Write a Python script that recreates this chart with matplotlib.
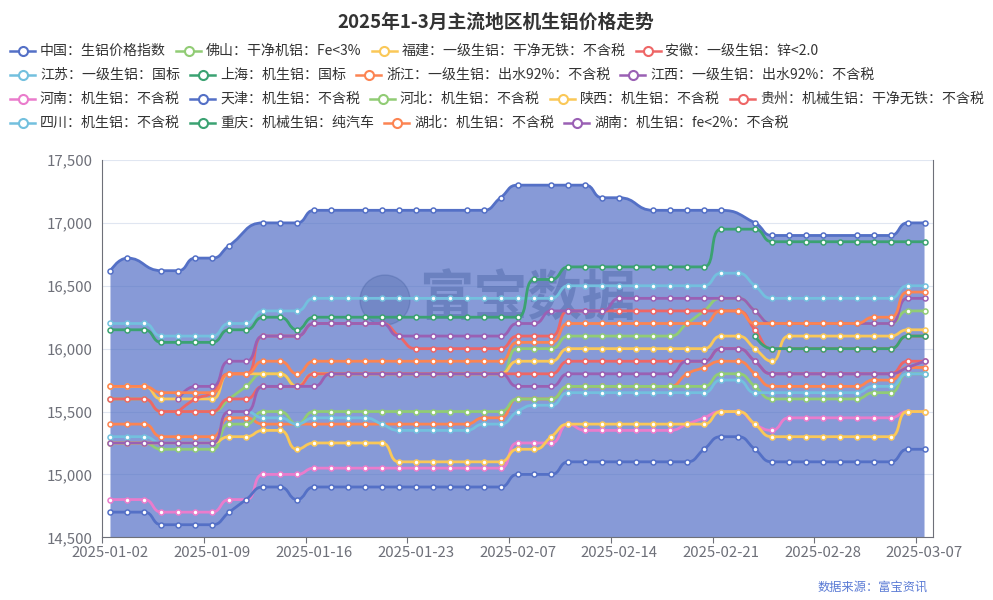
import matplotlib
matplotlib.use('Agg')
import matplotlib.pyplot as plt
from matplotlib.path import Path
from matplotlib.patches import PathPatch, Ellipse
import numpy as np
import math

plt.rcParams['font.family'] = ['Noto Sans CJK SC', 'DejaVu Sans']

# ---- data ----
dates = ['2025-01-02', '2025-01-03', '2025-01-04', '2025-01-06', '2025-01-07', '2025-01-08',
         '2025-01-09', '2025-01-10', '2025-01-11', '2025-01-13', '2025-01-14', '2025-01-15',
         '2025-01-16', '2025-01-17', '2025-01-18', '2025-01-20', '2025-01-21', '2025-01-22',
         '2025-01-23', '2025-01-24', '2025-01-25', '2025-01-27', '2025-02-05', '2025-02-06',
         '2025-02-07', '2025-02-08', '2025-02-10', '2025-02-11', '2025-02-12', '2025-02-13',
         '2025-02-14', '2025-02-15', '2025-02-17', '2025-02-18', '2025-02-19', '2025-02-20',
         '2025-02-21', '2025-02-22', '2025-02-24', '2025-02-25', '2025-02-26', '2025-02-27',
         '2025-02-28', '2025-03-01', '2025-03-03', '2025-03-04', '2025-03-05', '2025-03-06',
         '2025-03-07']

china = [16620, 16720, None, 16620, 16620, 16720,
         16720, 16820, None, 17000, 17000, 17000,
         17100, 17100, None, 17100, 17100, 17100,
         17100, 17100, None, 17100, 17100, 17200,
         17300, None, 17300, 17300, 17300, 17200,
         17200, None, 17100, 17100, 17100, 17100,
         17100, None, 17000, 16900, 16900, 16900,
         16900, None, 16900, 16900, 16900, 17000,
         17000]
foshan = [15600, 15600, 15600, 15500, 15500, 15500,
          15500, 15600, 15700, 15800, 15800, 15700,
          15800, 15800, 15800, 15800, 15800, 15800,
          15800, 15800, 15800, 15800, 15800, 15800,
          16000, 16000, 16000, 16100, 16100, 16100,
          16100, 16100, 16100, 16100, 16200, 16300,
          16400, 16400, 16300, 16200, 16200, 16200,
          16200, 16200, 16200, 16200, 16200, 16300,
          16300]
fujian = [15700, 15700, 15700, 15600, 15600, 15600,
          15600, 15800, 15800, 15800, 15800, 15700,
          15800, 15800, 15800, 15800, 15800, 15800,
          15800, 15800, 15800, 15800, 15800, 15800,
          15900, 15900, 15900, 16000, 16000, 16000,
          16000, 16000, 16000, 16000, 16000, 16000,
          16100, 16100, 16000, 15900, 16100, 16100,
          16100, 16100, 16100, 16100, 16100, 16150,
          16150]
anhui = [None, None, None, None, 15500, 15600,
         15650, 15800, 15800, 16100, 16100, 16100,
         16200, 16200, 16200, 16200, 16200, 16100,
         16000, 16000, 16000, 16000, 16000, 16000,
         16100, 16100, 16100, 16300, 16300, 16300,
         16300, 16300, 16300, 16300, 16300, 16300,
         16300, 16300, 16150, 16000, 16000, 16000,
         16000, 16000, 16000, 16000, 16000, 16100,
         16100]
jiangsu = [16200, 16200, 16200, 16100, 16100, 16100,
           16100, 16200, 16200, 16300, 16300, 16300,
           16400, 16400, 16400, 16400, 16400, 16400,
           16400, 16400, 16400, 16400, 16400, 16400,
           16400, 16400, 16400, 16500, 16500, 16500,
           16500, 16500, 16500, 16500, 16500, 16500,
           16600, 16600, 16500, 16400, 16400, 16400,
           16400, 16400, 16400, 16400, 16400, 16500,
           16500]
shanghai = [16150, 16150, 16150, 16050, 16050, 16050,
            16050, 16150, 16150, 16250, 16250, 16150,
            16250, 16250, 16250, 16250, 16250, 16250,
            16250, 16250, 16250, 16250, 16250, 16250,
            16250, 16550, 16550, 16650, 16650, 16650,
            16650, 16650, 16650, 16650, 16650, 16650,
            16950, 16950, 16950, 16850, 16850, 16850,
            16850, 16850, 16850, 16850, 16850, 16850,
            16850]
zhejiang = [15400, 15400, 15400, 15300, 15300, 15300,
            15300, 15450, 15450, 15400, 15400, 15400,
            15400, 15400, 15400, 15400, 15400, 15400,
            15400, 15400, 15400, 15400, 15450, 15450,
            15600, 15600, 15600, 15700, 15700, 15700,
            15700, 15700, 15700, 15700, 15800, 15850,
            15900, 15900, 15800, 15700, 15700, 15700,
            15700, 15700, 15700, 15750, 15750, 15850,
            15850]
jiangxi = [None, None, None, None, 15600, 15700,
           15700, 15900, 15900, 16100, 16100, 16100,
           16200, 16200, 16200, 16200, 16200, 16100,
           16100, 16100, 16100, 16100, 16100, 16100,
           16200, 16200, 16300, 16300, 16300, 16300,
           16400, 16400, 16400, 16400, 16400, 16400,
           16400, 16400, 16300, 16200, 16200, 16200,
           16200, 16200, 16200, 16200, 16200, 16400,
           16400]
henan = [14800, 14800, 14800, 14700, 14700, 14700,
         14700, 14800, 14800, 15000, 15000, 15000,
         15050, 15050, 15050, 15050, 15050, 15050,
         15050, 15050, 15050, 15050, 15050, 15050,
         15250, 15250, 15250, 15400, 15350, 15350,
         15350, 15350, 15350, 15350, 15400, 15450,
         15500, 15500, 15400, 15350, 15450, 15450,
         15450, 15450, 15450, 15450, 15450, 15500,
         15500]
tianjin = [14700, 14700, 14700, 14600, 14600, 14600,
           14600, 14700, 14800, 14900, 14900, 14800,
           14900, 14900, 14900, 14900, 14900, 14900,
           14900, 14900, 14900, 14900, 14900, 14900,
           15000, 15000, 15000, 15100, 15100, 15100,
           15100, 15100, 15100, 15100, 15100, 15200,
           15300, 15300, 15200, 15100, 15100, 15100,
           15100, 15100, 15100, 15100, 15100, 15200,
           15200]
hebei = [15250, 15250, 15250, 15200, 15200, 15200,
         15200, 15400, 15400, 15500, 15500, 15400,
         15500, 15500, 15500, 15500, 15500, 15500,
         15500, 15500, 15500, 15500, 15500, 15500,
         15600, 15600, 15600, 15700, 15700, 15700,
         15700, 15700, 15700, 15700, 15700, 15700,
         15800, 15800, 15700, 15600, 15600, 15600,
         15600, 15600, 15600, 15650, 15650, 15800,
         15800]
shaanxi = [15250, 15250, 15250, 15250, 15250, 15250,
           15250, 15300, 15300, 15350, 15350, 15200,
           15250, 15250, 15250, 15250, 15250, 15100,
           15100, 15100, 15100, 15100, 15100, 15100,
           15200, 15200, 15300, 15400, 15400, 15400,
           15400, 15400, 15400, 15400, 15400, 15400,
           15500, 15500, 15400, 15300, 15300, 15300,
           15300, 15300, 15300, 15300, 15300, 15500,
           15500]
guizhou = [15600, 15600, 15600, 15500, 15500, 15500,
           15500, 15600, 15600, 15700, 15700, 15700,
           15800, 15800, 15800, 15800, 15800, 15800,
           15800, 15800, 15800, 15800, 15800, 15800,
           15800, 15800, 15800, 15900, 15900, 15900,
           15900, 15900, 15900, 15900, 15900, 15900,
           16000, 16000, 15900, 15800, 15800, 15800,
           15800, 15800, 15800, 15800, 15800, 15900,
           15900]
sichuan = [15300, 15300, 15300, 15250, 15250, 15250,
           15250, 15500, 15500, 15450, 15450, 15400,
           15450, 15450, 15450, 15450, 15400, 15350,
           15350, 15350, 15350, 15350, 15400, 15400,
           15500, 15550, 15550, 15650, 15650, 15650,
           15650, 15650, 15650, 15650, 15650, 15650,
           15750, 15750, 15650, 15650, 15650, 15650,
           15650, 15650, 15650, 15700, 15700, 15800,
           15800]
chongqing = [None, None, None, None, None, None,
             None, None, None, None, None, None,
             None, None, None, None, None, None,
             None, None, None, None, None, None,
             None, None, None, None, None, None,
             None, None, None, None, None, None,
             None, None, 16100, 16000, 16000, 16000,
             16000, 16000, 16000, 16000, 16000, 16100,
             16100]
hubei = [15700, 15700, 15700, 15650, 15650, 15650,
         15650, 15800, 15800, 15900, 15900, 15800,
         15900, 15900, 15900, 15900, 15900, 15900,
         15900, 15900, 15900, 15900, 15900, 15900,
         16050, 16050, 16050, 16200, 16200, 16200,
         16200, 16200, 16200, 16200, 16200, 16200,
         16300, 16300, 16200, 16200, 16200, 16200,
         16200, 16200, 16200, 16250, 16250, 16450,
         16450]
hunan = [15250, 15250, 15250, 15250, 15250, 15250,
         15250, 15500, 15500, 15700, 15700, 15700,
         15700, 15800, 15800, 15800, 15800, 15800,
         15800, 15800, 15800, 15800, 15800, 15800,
         15700, 15700, 15700, 15800, 15800, 15800,
         15800, 15800, 15800, 15800, 15900, 15900,
         16000, 16000, 15900, 15800, 15800, 15800,
         15800, 15800, 15800, 15800, 15800, 15850,
         15900]

names = ['中国：生铝价格指数', '佛山：干净机铝：Fe<3%', '福建：一级生铝：干净无铁：不含税', '安徽：一级生铝：锌<2.0',
         '江苏：一级生铝：国标', '上海：机生铝：国标', '浙江：一级生铝：出水92%：不含税', '江西：一级生铝：出水92%：不含税',
         '河南：机生铝：不含税', '天津：机生铝：不含税', '河北：机生铝：不含税', '陕西：机生铝：不含税', '贵州：机械生铝：干净无铁：不含税',
         '四川：机生铝：不含税', '重庆：机械生铝：纯汽车', '湖北：机生铝：不含税', '湖南：机生铝：fe<2%：不含税']
series = [china, foshan, fujian, anhui, jiangsu, shanghai, zhejiang, jiangxi,
          henan, tianjin, hebei, shaanxi, guizhou, sichuan, chongqing, hubei, hunan]
palette = ['#5470c6', '#91cc75', '#fac858', '#ee6666', '#73c0de',
           '#3ba272', '#fc8452', '#9a60b4', '#ea7ccc']
colors = [palette[i % len(palette)] for i in range(len(series))]
legend_rows = [4, 4, 5, 4]

# ---- layout (pixels) ----
W, H = 993, 600
L, R, T, B = 102, 933, 160, 537.3
ymin, ymax = 14500, 17500
n = len(dates)
sx = (R - L) / n
sy = (B - T) / (ymax - ymin)


def smooth_path(xs, ys, smooth=0.5):
    # echarts-like bezier smoothing, lengths measured in pixels
    verts = [(xs[0], ys[0])]
    codes = [Path.MOVETO]
    cp0 = (xs[0], ys[0])
    m = len(xs)
    for k in range(1, m):
        x, y = xs[k], ys[k]
        px, py = xs[k - 1], ys[k - 1]
        if k == m - 1:
            cp1 = (x, y)
            ncp0 = None
        else:
            nx, ny = xs[k + 1], ys[k + 1]
            lp = math.hypot((x - px) * sx, (y - py) * sy)
            ln = math.hypot((nx - x) * sx, (ny - y) * sy)
            vx, vy = nx - px, ny - py
            r = ln / (ln + lp)
            ncx = x + vx * smooth * r
            ncy = y + vy * smooth * r
            ncx = min(max(ncx, min(nx, x)), max(nx, x))
            ncy = min(max(ncy, min(ny, y)), max(ny, y))
            vx, vy = ncx - x, ncy - y
            c1x = x - vx * lp / ln
            c1y = y - vy * lp / ln
            c1x = min(max(c1x, min(px, x)), max(px, x))
            c1y = min(max(c1y, min(py, y)), max(py, y))
            vx, vy = x - c1x, y - c1y
            ncx = x + vx * ln / lp
            ncy = y + vy * ln / lp
            cp1 = (c1x, c1y)
            ncp0 = (ncx, ncy)
        verts += [cp0, cp1, (x, y)]
        codes += [Path.CURVE4] * 3
        cp0 = ncp0
    return verts, codes


fig = plt.figure(figsize=(W / 100, H / 100), dpi=100)
renderer = fig.canvas.get_renderer()
ax = fig.add_axes([L / W, 1 - B / H, (R - L) / W, (B - T) / H])
ax.set_xlim(-0.5, n - 0.5)
ax.set_ylim(ymin, ymax)

yt = list(range(14500, 17501, 500))
ax.set_yticks(yt)
ax.set_yticklabels([f'{v:,}' for v in yt])
ax.yaxis.grid(True, color='#e0e6f1', lw=0.8)
ax.set_axisbelow(True)
ax.tick_params(axis='y', length=0, pad=7, labelcolor='#6e7079', labelsize=10.8)

ax.set_xticks(range(0, n, 6))
ax.set_xticklabels(dates[::6])
ax.set_xticks(np.arange(-0.5, n, 6), minor=True)
ax.tick_params(axis='x', which='major', length=0, pad=6, labelcolor='#6e7079', labelsize=10.8)
ax.tick_params(axis='x', which='minor', length=4, color='#6e7079', width=0.8)
ax.spines['top'].set_visible(False)
for s in ['left', 'right', 'bottom']:
    ax.spines[s].set_color('#6e7079')
    ax.spines[s].set_linewidth(0.8)
    ax.spines[s].set_zorder(50)

# watermark (logo + text), sized to ~217 px wide
wm = ax.text((528 - L) / (R - L), (B - 300) / (B - T), '富宝数据', transform=ax.transAxes,
             fontsize=39, fontweight='bold', color='#2d4a8c', alpha=0.3,
             ha='center', va='center', zorder=1.5)
ww = wm.get_window_extent(renderer).width
wm.set_fontsize(39 * 217 / ww)
ax.add_patch(Ellipse(((385 - L) / (R - L), (B - 300) / (B - T)), 50 / (R - L), 50 / (B - T),
                     transform=ax.transAxes, color='#2d4a8c', alpha=0.22, zorder=1.5))

for k, (vals, c) in enumerate(zip(series, colors)):
    xs = [i for i, v in enumerate(vals) if v is not None]
    ys = [vals[i] for i in xs]
    verts, codes = smooth_path(xs, ys)
    if k == 0:
        av = verts + [(xs[-1], ymin), (xs[0], ymin), (xs[0], ys[0])]
        ac = codes + [Path.LINETO, Path.LINETO, Path.CLOSEPOLY]
        ax.add_patch(PathPatch(Path(av, ac), facecolor=c, alpha=0.7, edgecolor='none', zorder=1))
    ax.add_patch(PathPatch(Path(verts, codes), fill=False, edgecolor=c, lw=2.0,
                           capstyle='round', joinstyle='round', zorder=2 + 2 * k))
    ax.plot(xs, ys, ls='none', marker='o', ms=3.6, mfc='white', mec=c, mew=1.1,
            zorder=3 + 2 * k)

# title, legend, source
fig.text(496 / W, 1 - 22 / H, '2025年1-3月主流地区机生铝价格走势', ha='center', va='center',
         fontsize=13.5, fontweight='bold', color='#333333')

lax = fig.add_axes([0, 0, 1, 1], zorder=10)
lax.set_xlim(0, W)
lax.set_ylim(H, 0)
lax.axis('off')
row_y = [51, 75, 99, 123]
k = 0
for r, cnt in enumerate(legend_rows):
    x = 10
    y = row_y[r]
    for j in range(cnt):
        c = colors[k]
        lax.plot([x, x + 25], [y, y], color=c, lw=1.8)
        lax.plot([x + 12.5], [y], marker='o', ms=6.5, mfc='white', mec=c, mew=1.5)
        t = lax.text(x + 30, y, names[k], ha='left', va='center', fontsize=10.05, color='#333333')
        w = t.get_window_extent(renderer).width
        x = x + 30 + w + 10
        k += 1

fig.text(928 / W, 1 - 587 / H, '数据来源：富宝资讯', ha='right', va='center',
         fontsize=8.8, color='#5b7bd5')

fig.savefig('out.png', dpi=100)
